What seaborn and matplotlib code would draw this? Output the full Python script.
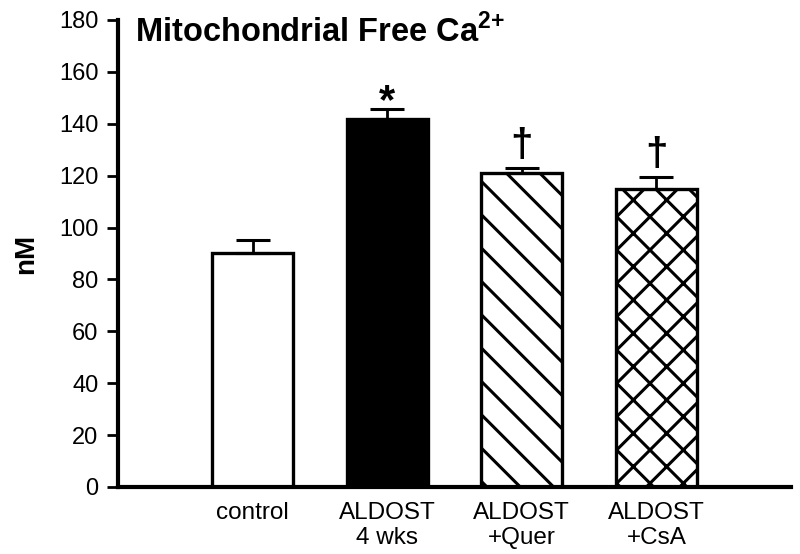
import matplotlib
matplotlib.use("Agg")
import matplotlib.pyplot as plt
import seaborn as sns
import pandas as pd

groups = ["control", "ALDOST\n4 wks", "ALDOST\n+Quer", "ALDOST\n+CsA"]
means = [90.0, 142.0, 121.0, 115.0]
sem = [5.0, 3.7, 2.0, 4.6]
marks = ["", "*", "\u2020", "\u2020"]
ticks = [0, 20, 40, 60, 80, 100, 120, 140, 160, 180]

sns.set_theme(style="white")
plt.rcParams["font.family"] = ["Liberation Sans", "DejaVu Sans"]
plt.rcParams["text.color"] = "black"
plt.rcParams["axes.labelcolor"] = "black"
plt.rcParams["xtick.color"] = "black"
plt.rcParams["ytick.color"] = "black"
plt.rcParams["mathtext.fontset"] = "custom"
plt.rcParams["mathtext.rm"] = "Liberation Sans"
plt.rcParams["mathtext.bf"] = "Liberation Sans:bold"
plt.rcParams["hatch.linewidth"] = 2.2
plt.rcParams["hatch.color"] = "black"

df = pd.DataFrame({"group": groups, "mean": means})

fig = plt.figure(figsize=(8, 5.54), dpi=100)
ax = fig.add_axes([0.1475, 0.121, 0.8413, 0.843])

sns.barplot(data=df, x="group", y="mean", ax=ax, width=0.6,
            color="white", edgecolor="black", linewidth=2.4, errorbar=None)
fills = ["white", "black", "white", "white"]
hatches = [None, None, "\\", "x"]
for p, fc, h in zip(ax.patches, fills, hatches):
    p.set_facecolor(fc)
    p.set_edgecolor("black")
    if h:
        p.set_hatch(h)

ax.errorbar(range(len(groups)), means, yerr=[[0] * len(sem), sem], fmt="none",
            ecolor="black", elinewidth=2.0, capsize=12, capthick=2.2, zorder=1)

for i, (m, s, t) in enumerate(zip(means, sem, marks)):
    if t == "*":
        ax.text(i, m + s - 5.0, t, ha="center", va="bottom", fontsize=30, fontweight="bold")
    elif t:
        ax.text(i, m + s + 1.0, t, ha="center", va="bottom", fontsize=29, fontweight="bold")

ax.set_ylim(0, 180)
ax.set_xlim(-1.0, 4.0)
ax.set_yticks(ticks)
ax.set_yticklabels([str(t) for t in ticks], fontsize=17)
ax.tick_params(axis="y", direction="out", length=8, width=2, left=True, pad=6, color="black")
ax.tick_params(axis="x", length=0, labelsize=17.5, pad=11)
for lab in ax.get_xticklabels():
    lab.set_linespacing(1.15)
ax.set_xlabel("")
ax.set_ylabel("nM", fontsize=20, fontweight="bold", labelpad=14)
for sp in ["top", "right"]:
    ax.spines[sp].set_visible(False)
for sp in ["left", "bottom"]:
    ax.spines[sp].set_linewidth(3)
    ax.spines[sp].set_color("black")

ax.text(0.025, 1.014, r"Mitochondrial Free Ca$^{\mathbf{2{+}}}$", transform=ax.transAxes,
        ha="left", va="top", fontsize=23.5, fontweight="bold")

fig.savefig("out.png", dpi=100)
